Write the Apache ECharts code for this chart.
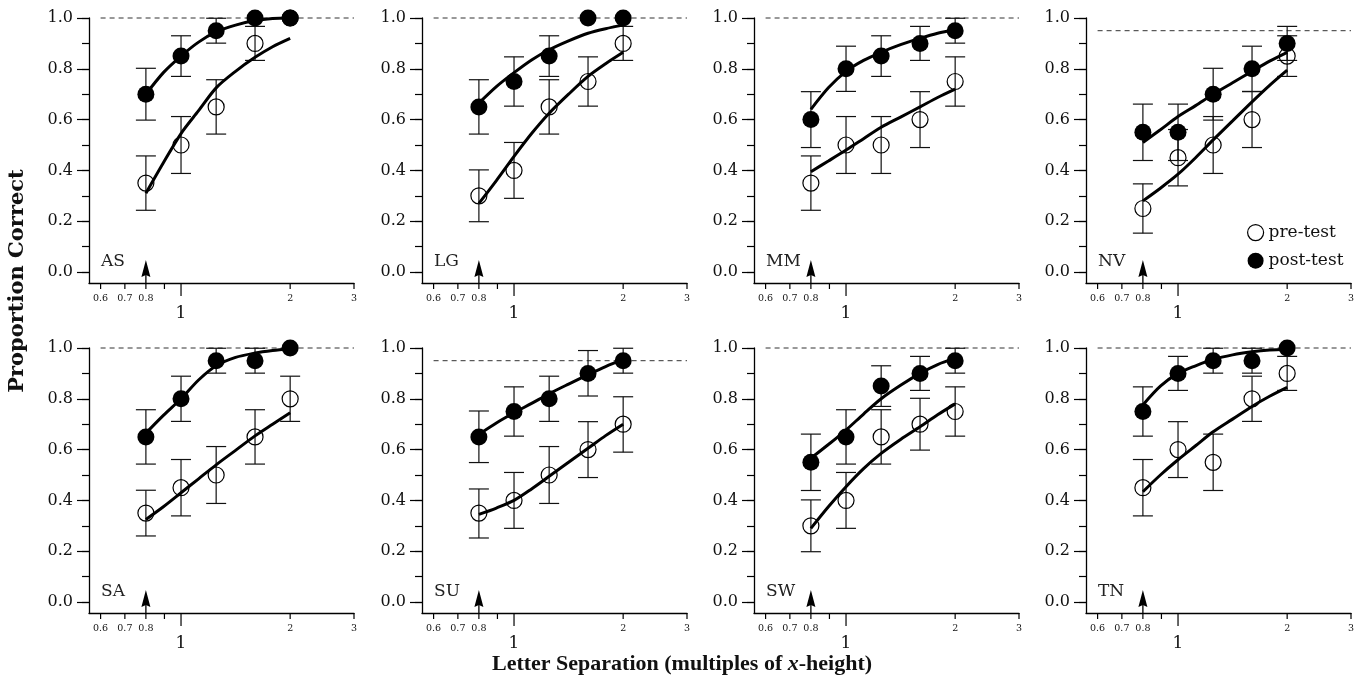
<!DOCTYPE html>
<html><head><meta charset="utf-8">
<script src="https://cdn.jsdelivr.net/npm/echarts@6/dist/echarts.min.js"></script>
<style>html,body{margin:0;padding:0;background:#fff}#c{width:1368px;height:688px}</style>
</head><body><div id="c"></div>
<script>
// ---------------- data ----------------
const subjects = ['AS', 'LG', 'MM', 'NV', 'SA', 'SU', 'SW', 'TN'];
const separations = [0.8, 1.0, 1.25, 1.6, 2.0];
const fitX = [0.8, 0.894, 1.0, 1.118, 1.25, 1.414, 1.6, 1.789, 2.0];
const xTickValues = [0.6, 0.7, 0.8, 0.9, 1, 2, 3];
const xLongTicks = [1];
const xSmallLabels = [0.6, 0.7, 0.8, 2, 3];
const xBigLabels = [1];
const yMinorTicks = [0, 0.1, 0.2, 0.3, 0.4, 0.5, 0.6, 0.7, 0.8, 0.9, 1.0];
const yMajorTicks = [0, 0.2, 0.4, 0.6, 0.8, 1.0];
const ceilingLevel = [1, 1, 1, 0.95, 1, 0.95, 1, 1];
const ceilingRange = [0.6, 3];
const arrowMark = [0.8, 0.047];

const preCorrect = [
  [0.35, 0.50, 0.65, 0.90, 1.00],
  [0.30, 0.40, 0.65, 0.75, 0.90],
  [0.35, 0.50, 0.50, 0.60, 0.75],
  [0.25, 0.45, 0.50, 0.60, 0.85],
  [0.35, 0.45, 0.50, 0.65, 0.80],
  [0.35, 0.40, 0.50, 0.60, 0.70],
  [0.30, 0.40, 0.65, 0.70, 0.75],
  [0.45, 0.60, 0.55, 0.80, 0.90]
];
const postCorrect = [
  [0.70, 0.85, 0.95, 1.00, 1.00],
  [0.65, 0.75, 0.85, 1.00, 1.00],
  [0.60, 0.80, 0.85, 0.90, 0.95],
  [0.55, 0.55, 0.70, 0.80, 0.90],
  [0.65, 0.80, 0.95, 0.95, 1.00],
  [0.65, 0.75, 0.80, 0.90, 0.95],
  [0.55, 0.65, 0.85, 0.90, 0.95],
  [0.75, 0.90, 0.95, 0.95, 1.00]
];
const preLow = [
  [0.243, 0.388, 0.543, 0.833, 1.00],
  [0.198, 0.290, 0.543, 0.653, 0.833],
  [0.243, 0.388, 0.388, 0.490, 0.653],
  [0.153, 0.339, 0.388, 0.490, 0.770],
  [0.260, 0.339, 0.388, 0.543, 0.711],
  [0.252, 0.290, 0.388, 0.490, 0.590],
  [0.198, 0.290, 0.543, 0.598, 0.653],
  [0.339, 0.490, 0.439, 0.711, 0.833]
];
const preHigh = [
  [0.457, 0.612, 0.757, 0.967, 1.00],
  [0.402, 0.510, 0.757, 0.847, 0.967],
  [0.457, 0.612, 0.612, 0.710, 0.847],
  [0.347, 0.561, 0.612, 0.710, 0.930],
  [0.440, 0.561, 0.612, 0.757, 0.889],
  [0.445, 0.510, 0.612, 0.710, 0.808],
  [0.402, 0.510, 0.757, 0.802, 0.847],
  [0.561, 0.710, 0.661, 0.889, 0.967]
];
const postLow = [
  [0.598, 0.770, 0.901, 1.00, 1.00],
  [0.543, 0.653, 0.770, 1.00, 1.00],
  [0.490, 0.711, 0.770, 0.833, 0.901],
  [0.439, 0.439, 0.598, 0.711, 0.833],
  [0.543, 0.711, 0.901, 0.901, 1.00],
  [0.549, 0.653, 0.711, 0.811, 0.901],
  [0.439, 0.543, 0.770, 0.833, 0.901],
  [0.653, 0.833, 0.901, 0.901, 1.00]
];
const postHigh = [
  [0.802, 0.930, 0.999, 1.00, 1.00],
  [0.757, 0.847, 0.930, 1.00, 1.00],
  [0.710, 0.889, 0.930, 0.967, 0.999],
  [0.661, 0.661, 0.802, 0.889, 0.967],
  [0.757, 0.889, 0.999, 0.999, 1.00],
  [0.752, 0.847, 0.889, 0.990, 0.999],
  [0.661, 0.757, 0.930, 0.967, 0.999],
  [0.847, 0.967, 0.999, 0.999, 1.00]
];
// fitted curves, read at fitX
const preFit = [
  [0.31, 0.43, 0.545, 0.635, 0.725, 0.79, 0.845, 0.887, 0.92],
  [0.27, 0.36, 0.455, 0.545, 0.625, 0.70, 0.77, 0.82, 0.865],
  [0.395, 0.437, 0.48, 0.525, 0.57, 0.61, 0.65, 0.687, 0.72],
  [0.28, 0.33, 0.385, 0.45, 0.52, 0.595, 0.67, 0.735, 0.795],
  [0.325, 0.375, 0.43, 0.485, 0.54, 0.597, 0.654, 0.70, 0.745],
  [0.345, 0.37, 0.40, 0.445, 0.495, 0.55, 0.605, 0.655, 0.70],
  [0.29, 0.375, 0.454, 0.525, 0.585, 0.64, 0.69, 0.737, 0.78],
  [0.434, 0.50, 0.56, 0.615, 0.67, 0.72, 0.77, 0.81, 0.845]
];
const postFit = [
  [0.70, 0.785, 0.85, 0.905, 0.945, 0.972, 0.99, 0.998, 1.0],
  [0.665, 0.73, 0.785, 0.835, 0.875, 0.91, 0.94, 0.958, 0.972],
  [0.64, 0.725, 0.79, 0.833, 0.865, 0.895, 0.92, 0.94, 0.955],
  [0.51, 0.56, 0.612, 0.655, 0.70, 0.745, 0.79, 0.83, 0.865],
  [0.665, 0.735, 0.80, 0.874, 0.93, 0.963, 0.98, 0.99, 0.997],
  [0.66, 0.705, 0.745, 0.782, 0.82, 0.858, 0.895, 0.927, 0.955],
  [0.566, 0.62, 0.677, 0.74, 0.80, 0.853, 0.90, 0.935, 0.96],
  [0.776, 0.85, 0.90, 0.93, 0.955, 0.973, 0.985, 0.992, 0.995]
];

// ---------------- layout / style ----------------
const FONT = '"DejaVu Serif", "Liberation Serif", serif';
const panelLefts = [89, 422, 754, 1086];
const panelTops = [18, 348];
const panelSize = 265;
const xMin = 0.5574, xMax = 3;
const yMin = -0.0433, yMax = 1;

const grids = [], xAxes = [], yAxes = [], series = [], graphics = [];

function zip(xs, ys) { return xs.map((x, k) => [x, ys[k]]); }

function errorBarRender(params, api) {
  const x = api.value(0), lo = api.value(1), hi = api.value(2);
  if (hi - lo < 1e-6) return null;
  const a = api.coord([x, lo]), b = api.coord([x, hi]);
  const w = 10;
  const st = { stroke: '#111', lineWidth: 1.2 };
  return {
    type: 'group', children: [
      { type: 'line', shape: { x1: a[0], y1: a[1], x2: b[0], y2: b[1] }, style: st },
      { type: 'line', shape: { x1: a[0] - w, y1: a[1], x2: a[0] + w, y2: a[1] }, style: st },
      { type: 'line', shape: { x1: b[0] - w, y1: b[1], x2: b[0] + w, y2: b[1] }, style: st }
    ]
  };
}

function xTickRender(params, api) {
  const v = api.value(0);
  const p = api.coord([v, yMin]);
  const isLong = xLongTicks.some(t => Math.abs(t - v) < 1e-9);
  const len = isLong ? 13 : 6;
  return { type: 'line', shape: { x1: p[0], y1: p[1], x2: p[0], y2: p[1] + len },
    style: { stroke: '#000', lineWidth: 1.2 } };
}

function arrowRender(params, api) {
  const tip = api.coord([api.value(0), api.value(1)]);
  const base = api.coord([api.value(0), yMin]);
  const hb = tip[1] + 17;
  return {
    type: 'group', children: [
      { type: 'polygon', shape: { points: [[tip[0], tip[1]], [tip[0] - 4.5, hb], [tip[0], hb - 2], [tip[0] + 4.5, hb]] }, style: { fill: '#000' } },
      { type: 'line', shape: { x1: tip[0], y1: hb - 2, x2: tip[0], y2: base[1] }, style: { stroke: '#000', lineWidth: 1.3 } }
    ]
  };
}

subjects.forEach((name, i) => {
  const left = panelLefts[i % 4];
  const top = panelTops[Math.floor(i / 4)];
  grids.push({ left: left, top: top, width: panelSize, height: panelSize, containLabel: false });
  const xa = 2 * i, ya = 2 * i;
  xAxes.push({
    type: 'log', logBase: 10, gridIndex: i, min: xMin, max: xMax, position: 'bottom',
    axisLine: { show: true, onZero: false, lineStyle: { color: '#000', width: 1.3 } },
    axisTick: { show: false },
    axisLabel: { show: true, customValues: xSmallLabels, margin: 11, fontSize: 9.5, fontFamily: FONT, color: '#111',
      hideOverlap: false, formatter: v => String(+(+v).toPrecision(3)) },
    splitLine: { show: false }, minorTick: { show: false }
  });
  xAxes.push({
    type: 'log', logBase: 10, gridIndex: i, min: xMin, max: xMax, position: 'bottom',
    axisLine: { show: false, onZero: false },
    axisTick: { show: false },
    axisLabel: { show: true, customValues: xBigLabels, margin: 22, fontSize: 17, fontFamily: FONT, color: '#111',
      formatter: v => String(+(+v).toPrecision(3)) },
    splitLine: { show: false }
  });
  yAxes.push({
    type: 'value', gridIndex: i, min: yMin, max: yMax, position: 'left',
    axisLine: { show: true, onZero: false, lineStyle: { color: '#000', width: 1.3 } },
    axisTick: { show: true, inside: false, length: 7, customValues: yMinorTicks, lineStyle: { color: '#000', width: 1.2 } },
    axisLabel: { show: false }, splitLine: { show: false }
  });
  yAxes.push({
    type: 'value', gridIndex: i, min: yMin, max: yMax, position: 'left',
    axisLine: { show: false, onZero: false },
    axisTick: { show: true, inside: false, length: 12, customValues: yMajorTicks, lineStyle: { color: '#000', width: 1.2 } },
    axisLabel: { show: true, customValues: yMajorTicks, margin: 16, fontSize: 16, fontFamily: FONT, color: '#111',
      formatter: v => (+v).toFixed(1) },
    splitLine: { show: false }
  });

  const common = { xAxisIndex: xa, yAxisIndex: ya };
  series.push(Object.assign({
    type: 'custom', name: 'x-ticks', renderItem: xTickRender, z: 1, clip: false, silent: true,
    data: xTickValues.map(v => [v, yMin])
  }, common));
  series.push(Object.assign({
    type: 'line', name: 'ceiling', data: ceilingRange.map(x => [x, ceilingLevel[i]]),
    showSymbol: false, symbol: 'none', silent: true, z: 1, clip: false,
    lineStyle: { color: '#333', width: 1, type: [5, 4] }
  }, common));
  series.push(Object.assign({
    type: 'custom', name: 'pre-err', renderItem: errorBarRender, z: 2, clip: false,
    data: separations.map((x, k) => [x, preLow[i][k], preHigh[i][k]])
  }, common));
  series.push(Object.assign({
    type: 'custom', name: 'post-err', renderItem: errorBarRender, z: 2, clip: false,
    data: separations.map((x, k) => [x, postLow[i][k], postHigh[i][k]])
  }, common));
  series.push(Object.assign({
    type: 'line', name: 'pre-fit', data: zip(fitX, preFit[i]), smooth: 0.3,
    showSymbol: false, symbol: 'none', z: 3, clip: false,
    lineStyle: { color: '#000', width: 3 }
  }, common));
  series.push(Object.assign({
    type: 'line', name: 'post-fit', data: zip(fitX, postFit[i]), smooth: 0.3,
    showSymbol: false, symbol: 'none', z: 3, clip: false,
    lineStyle: { color: '#000', width: 3 }
  }, common));
  series.push(Object.assign({
    type: 'scatter', name: 'pre-test', data: zip(separations, preCorrect[i]),
    symbol: 'circle', symbolSize: 16, z: 4, clip: false,
    itemStyle: { color: 'rgba(0,0,0,0)', borderColor: '#000', borderWidth: 1.2, opacity: 1 }
  }, common));
  series.push(Object.assign({
    type: 'scatter', name: 'post-test', data: zip(separations, postCorrect[i]),
    symbol: 'circle', symbolSize: 17, z: 5, clip: false,
    itemStyle: { color: '#000', borderColor: '#000', borderWidth: 0, opacity: 1 }
  }, common));
  series.push(Object.assign({
    type: 'custom', name: 'arrow', renderItem: arrowRender, z: 3, clip: false,
    data: [arrowMark]
  }, common));

  graphics.push({
    type: 'text', x: left + 12, y: top + 244,
    style: { text: name, font: '17px ' + FONT, fill: '#222', verticalAlign: 'middle', align: 'left' }
  });
});

graphics.push({
  type: 'text', x: 18, y: 281, rotation: Math.PI / 2,
  style: { text: 'Proportion Correct', font: 'bold 21px ' + FONT, fill: '#111', align: 'center', verticalAlign: 'middle' }
});
graphics.push({
  type: 'text', x: 682, y: 664,
  style: {
    text: 'Letter Separation (multiples of {i|x}-height)', font: 'bold 22px "Liberation Serif", serif', fill: '#111',
    align: 'center', verticalAlign: 'middle',
    rich: { i: { font: 'italic bold 22px "Liberation Serif", serif', fill: '#111' } }
  }
});

const chart = echarts.init(document.getElementById('c'), null, { renderer: 'canvas' });
chart.setOption({
  animation: false,
  backgroundColor: '#fff',
  grid: grids,
  xAxis: xAxes,
  yAxis: yAxes,
  series: series,
  graphic: graphics,
  legend: {
    data: [
      { name: 'pre-test', icon: 'circle', itemStyle: { color: 'rgba(0,0,0,0)', borderColor: '#000', borderWidth: 1.2 } },
      { name: 'post-test', icon: 'circle', itemStyle: { color: '#000', opacity: 1 } }
    ],
    orient: 'vertical', left: 1247, top: 224, itemWidth: 16, itemHeight: 16, itemGap: 11,
    selectedMode: false, padding: 0,
    textStyle: { fontFamily: FONT, fontSize: 17, color: '#111' }
  }
});
</script></body></html>
